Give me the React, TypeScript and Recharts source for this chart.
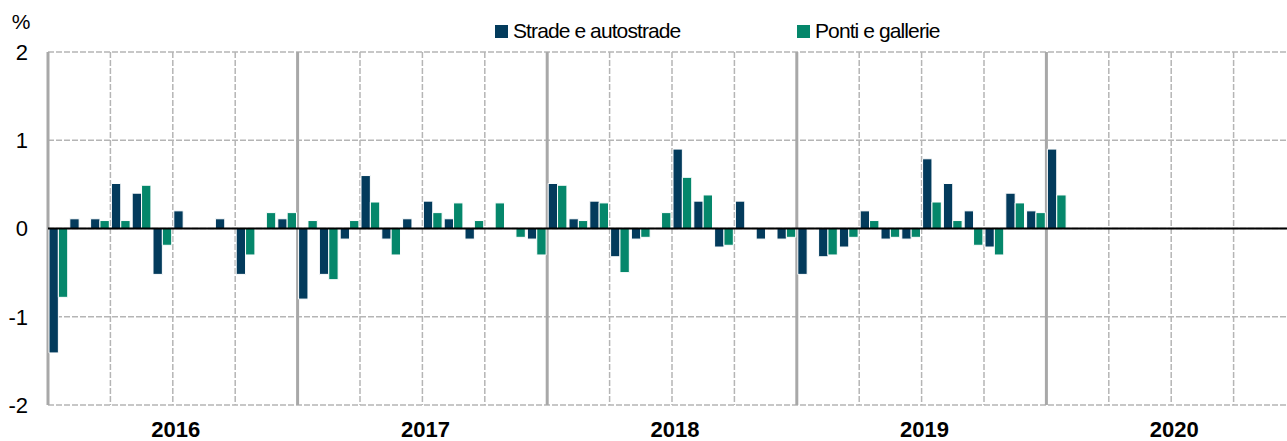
import React from 'react';
import { BarChart, Bar, XAxis, YAxis, CartesianGrid, ReferenceLine, Legend, Label } from 'recharts';

const years = ['2016', '2017', '2018', '2019', '2020'];
const monthsPerYear = 12;

const strade: (number | null)[] = [
  -1.41, 0.11, 0.11, 0.51, 0.4, -0.52, 0.2, 0, 0.11, -0.52, 0, 0.11,
  -0.8, -0.52, -0.12, 0.6, -0.12, 0.11, 0.31, 0.11, -0.12, 0, 0, -0.12,
  0.51, 0.11, 0.31, -0.32, -0.12, 0, 0.9, 0.31, -0.21, 0.31, -0.12, -0.12,
  -0.52, -0.32, -0.21, 0.2, -0.12, -0.12, 0.79, 0.51, 0.2, -0.21, 0.4, 0.2,
  0.9,
];
const ponti: (number | null)[] = [
  -0.78, 0, 0.09, 0.09, 0.49, -0.19, 0, 0, 0, -0.3, 0.18, 0.18,
  0.09, -0.58, 0.09, 0.3, -0.3, 0, 0.18, 0.29, 0.09, 0.29, -0.1, -0.3,
  0.49, 0.09, 0.29, -0.5, -0.1, 0.18, 0.58, 0.38, -0.19, 0, 0, -0.1,
  0, -0.3, -0.1, 0.09, -0.1, -0.1, 0.3, 0.09, -0.19, -0.3, 0.29, 0.18,
  0.38,
];
const yTicks = [-2, -1, 0, 1, 2];

const seriesNames = ['Strade e autostrade', 'Ponti e gallerie'];
const colors = ['#033b5c', '#05876b'];

const totalMonths = years.length * monthsPerYear;
const data = Array.from({ length: totalMonths }, (_, i) => ({
  m: `${years[Math.floor(i / 12)]}-${(i % 12) + 1}`,
  s: i < strade.length ? strade[i] : null,
  p: i < ponti.length ? ponti[i] : null,
}));
// tick at the 7th month of each year; label is drawn at that band's start (mid-year)
const yearTicks = years.map((_, i) => data[i * 12 + 6].m);
const yearBounds = Array.from({ length: years.length + 1 }, (_, i) => i * 12);
const quarterBounds = Array.from({ length: totalMonths / 3 + 1 }, (_, i) => i * 3).filter((v) => v % 12 !== 0);

const FONT = '"Liberation Sans", Arial, sans-serif';

// month boundaries of the band axis (no padding): plot left + i * band width
const boundaryCoords = (offset: any, idx: number[]) => {
  if (!offset) return [];
  const bw = offset.width / totalMonths;
  return idx.map((i) => offset.left + i * bw);
};

const YearTick = (props: any) => {
  const { x, y, payload } = props;
  const off = payload && typeof payload.offset === 'number' ? payload.offset : 10.4;
  const idx = data.findIndex((d) => d.m === payload.value);
  return (
    <text x={x - off + 3} y={y + 32} textAnchor="middle" fill="#000" fontSize={22} fontWeight="bold" fontFamily={FONT}>
      {years[Math.floor(idx / 12)]}
    </text>
  );
};

const renderLegend = () => (
  <div style={{ position: 'relative', width: 1320, height: 40, fontFamily: FONT }}>
    {seriesNames.map((n, i) => (
      <div
        key={n}
        style={{
          position: 'absolute',
          left: i === 0 ? 495 : 797,
          top: 20,
          height: 22,
          display: 'flex',
          alignItems: 'center',
          whiteSpace: 'nowrap',
        }}
      >
        <span style={{ display: 'inline-block', width: 13, height: 13, background: colors[i], marginRight: 5 }} />
        <span style={{ fontSize: 21, letterSpacing: -0.9, color: '#000' }}>{n}</span>
      </div>
    ))}
  </div>
);

export default function App() {
  return (
    <div style={{ position: 'absolute', left: 0, top: 0, width: 1287, height: 441, overflow: 'hidden', background: '#fff' }}>
      <BarChart
        width={1320}
        height={441}
        data={data}
        margin={{ top: 12, right: 24, left: 0, bottom: 0 }}
        barGap={-2}
        barCategoryGap={0}
      >
        <CartesianGrid
          stroke="#b5b5b5"
          strokeWidth={1.5}
          strokeDasharray="6 2"
          verticalCoordinatesGenerator={({ offset }: any) => boundaryCoords(offset, quarterBounds)}
        />
        <CartesianGrid
          horizontal={false}
          stroke="#a8a8a8"
          strokeWidth={3}
          verticalCoordinatesGenerator={({ offset }: any) => boundaryCoords(offset, yearBounds)}
        />
        <XAxis
          dataKey="m"
          ticks={yearTicks}
          interval={0}
          axisLine={false}
          tickLine={false}
          tickSize={0}
          tickMargin={0}
          height={36}
          tick={<YearTick />}
        />
        <YAxis
          domain={[-2, 2]}
          ticks={yTicks}
          width={48}
          axisLine={false}
          tickLine={false}
          tickSize={0}
          tickMargin={20}
          interval={0}
          tick={{ fill: '#000', fontSize: 22, fontFamily: FONT }}
        >
          <Label value="%" position="top" offset={23} dx={-3} style={{ fill: '#000', fontSize: 21, fontFamily: FONT }} />
        </YAxis>
        <Legend verticalAlign="top" content={renderLegend} wrapperStyle={{ top: 0, left: 0, width: 1320, height: 40 }} />
        <Bar dataKey="s" name={seriesNames[0]} fill={colors[0]} stroke="#fff" strokeWidth={1} barSize={13} isAnimationActive={false} />
        <Bar dataKey="p" name={seriesNames[1]} fill={colors[1]} stroke="#fff" strokeWidth={1} barSize={10} isAnimationActive={false} />
        <ReferenceLine y={0} stroke="#000" strokeWidth={2} />
      </BarChart>
    </div>
  );
}
